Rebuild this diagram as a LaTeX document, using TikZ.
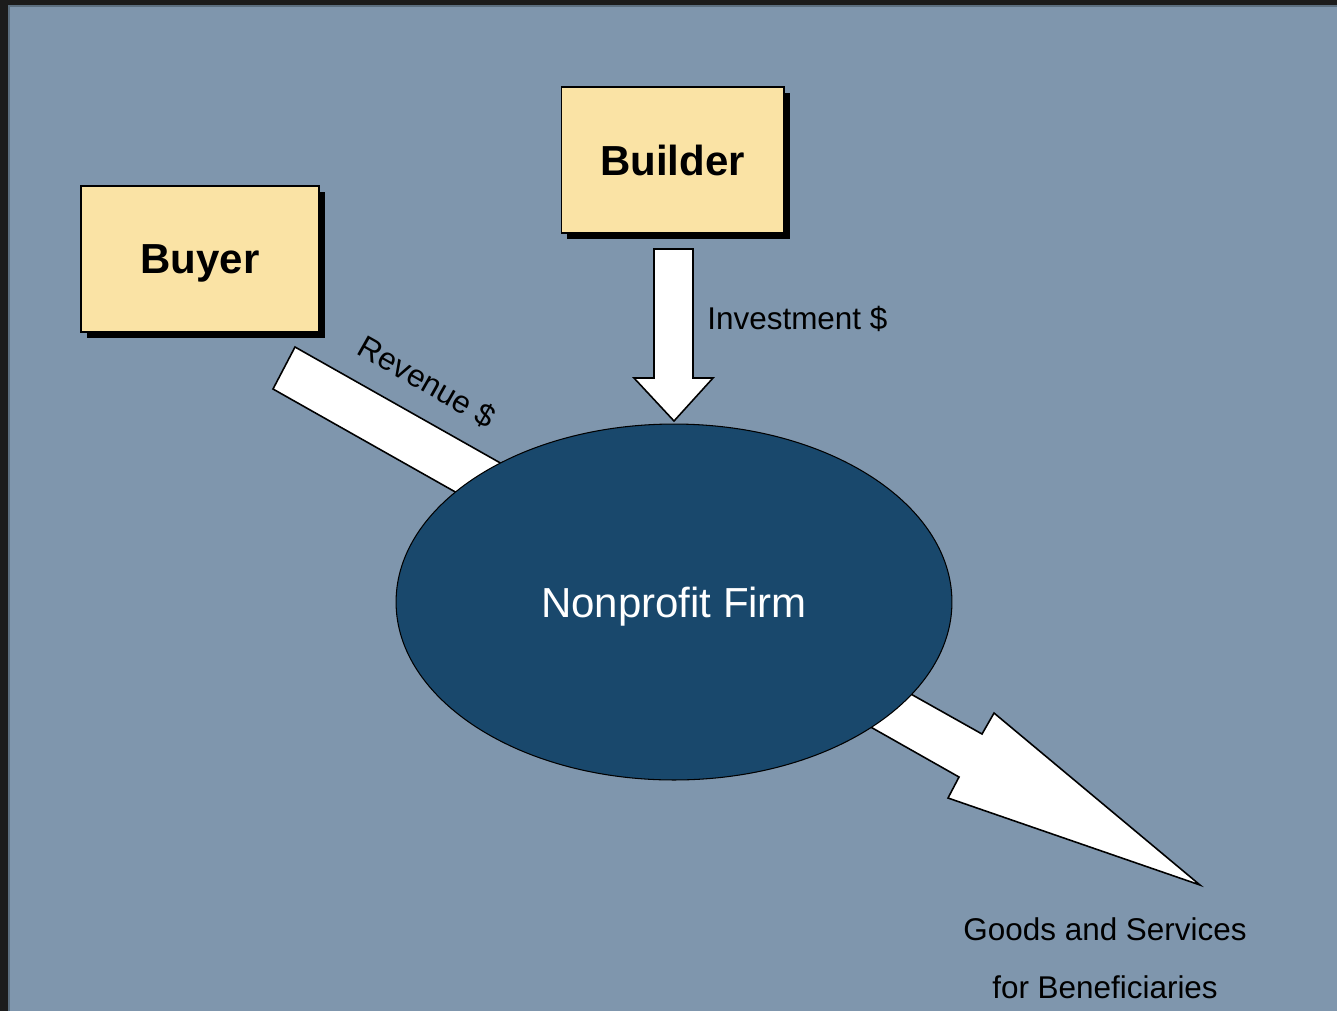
\documentclass[tikz,border=0pt]{standalone}
\usepackage{fontspec}
\setmainfont{Liberation Sans}
\usetikzlibrary{shadows,shapes.geometric}
\definecolor{slide}{HTML}{7F96AD}
\definecolor{slideedge}{HTML}{5C6F80}
\definecolor{frame}{HTML}{1C1C1C}
\definecolor{boxfill}{HTML}{FAE3A5}
\definecolor{firm}{HTML}{19486C}
\tikzset{
  party/.style={draw=black, fill=boxfill, line width=0.6pt, inner sep=0pt,
    minimum height=2.92cm, text depth=0pt, font=\fontsize{23.9}{28}\selectfont\bfseries,
    drop shadow={fill=black, opacity=1, shadow xshift=0.12cm, shadow yshift=-0.12cm}},
  flow/.style={draw=black, fill=white, line width=0.9pt, line join=miter},
  flowlabel/.style={inner sep=0pt, font=\fontsize{17.9}{33}\selectfont}
}
\begin{document}
\begin{tikzpicture}[x=0.02cm, y=-0.02cm]
    % slide frame
    \fill[frame] (0,0) rectangle (1337,1011);
    \fill[slideedge] (8,5) rectangle (1337,1011);
    \fill[slide] (10,7) rectangle (1337,1011);
    \useasboundingbox (0,0) rectangle (1337,1011);

    % parties
    \node[party, minimum width=4.76cm] (buyer) at (200,259) {Buyer};
    \node[party, minimum width=4.46cm] (builder) at (672.5,160) {Builder};

    % block arrows
    %% revenue
    \draw[flow] (295,347) -- (573,504) -- (551,546) -- (273,389) -- cycle;
    %% investment
    \draw[flow] (654,249) -- (693,249) -- (693,378) -- (713,378) -- (674,421)
      -- (634,378) -- (654,378) -- cycle;
    %% goods and services
    \draw[flow] (852,661) -- (982,734) -- (994,713) -- (1200,885) -- (948,798)
      -- (959,777) -- (830,704) -- cycle;

    % firm
    \node[draw=black, fill=firm, ellipse, line width=0.6pt, inner sep=0pt,
      minimum width=11.12cm, minimum height=7.12cm, text=white, text depth=0pt,
      font=\fontsize{23.9}{28}\selectfont] (firm) at (674,602) {Nonprofit Firm};

    % labels
    \node[flowlabel, rotate=-29.5] (revenue) at (427,382) {Revenue \$};
    \node[flowlabel, anchor=base west] (investment) at (707,329) {Investment \$};
    \node[flowlabel, align=center, anchor=base] (goods) at (1105,998)
      {Goods and Services\\for Beneficiaries};
\end{tikzpicture}
\end{document}
